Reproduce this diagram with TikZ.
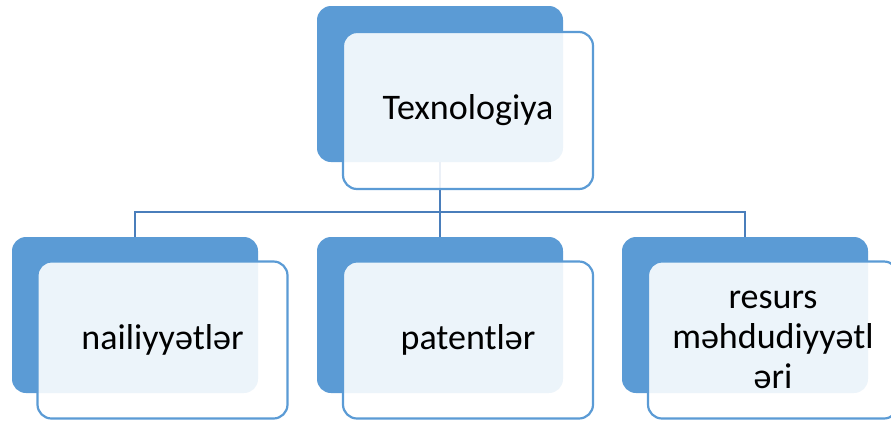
\documentclass[tikz,border=0pt]{standalone}
\usepackage{fontspec}
\setmainfont{Carlito}
\definecolor{boxblue}{HTML}{5B9BD5}
\definecolor{linkblue}{HTML}{4A7EBB}
\tikzset{
	backbox/.style={rectangle, rounded corners=14pt, fill=boxblue, inner sep=0pt, minimum width=246pt, minimum height=156pt},
	frontbox/.style={rectangle, rounded corners=14pt, draw=boxblue, line width=2.2pt, fill=white, fill opacity=0.89, text opacity=1, inner sep=0pt, minimum width=250pt, minimum height=157pt, align=center, font=\fontsize{36}{40}\selectfont},
	link/.style={draw=linkblue, line width=2pt}
}
\begin{document}
\begin{tikzpicture}[x=1pt,y=-1pt]
		\clip (0,0) rectangle (891,421);

		% back boxes
		\node[backbox] (tb) at (440,84) {};
		\node[backbox] (lb) at (135,315) {};
		\node[backbox] (mb) at (440,315) {};
		\node[backbox] (rb) at (745,315) {};

		% Links
		\foreach \c in {lb,mb,rb}
		\draw[link] (tb.south) -- ++(0,50) -| (\c.north);

		% front boxes
		\node[frontbox] (tf) at (468,110.5) {Texnologiya};
		\node[frontbox] (lf) at (162.5,340) {nailiyyətlər};
		\node[frontbox] (mf) at (468,340) {patentlər};
		\node[frontbox] (rf) at (773,340) {resurs\\məhdudiyyətl\\əri};
\end{tikzpicture}
\end{document}
